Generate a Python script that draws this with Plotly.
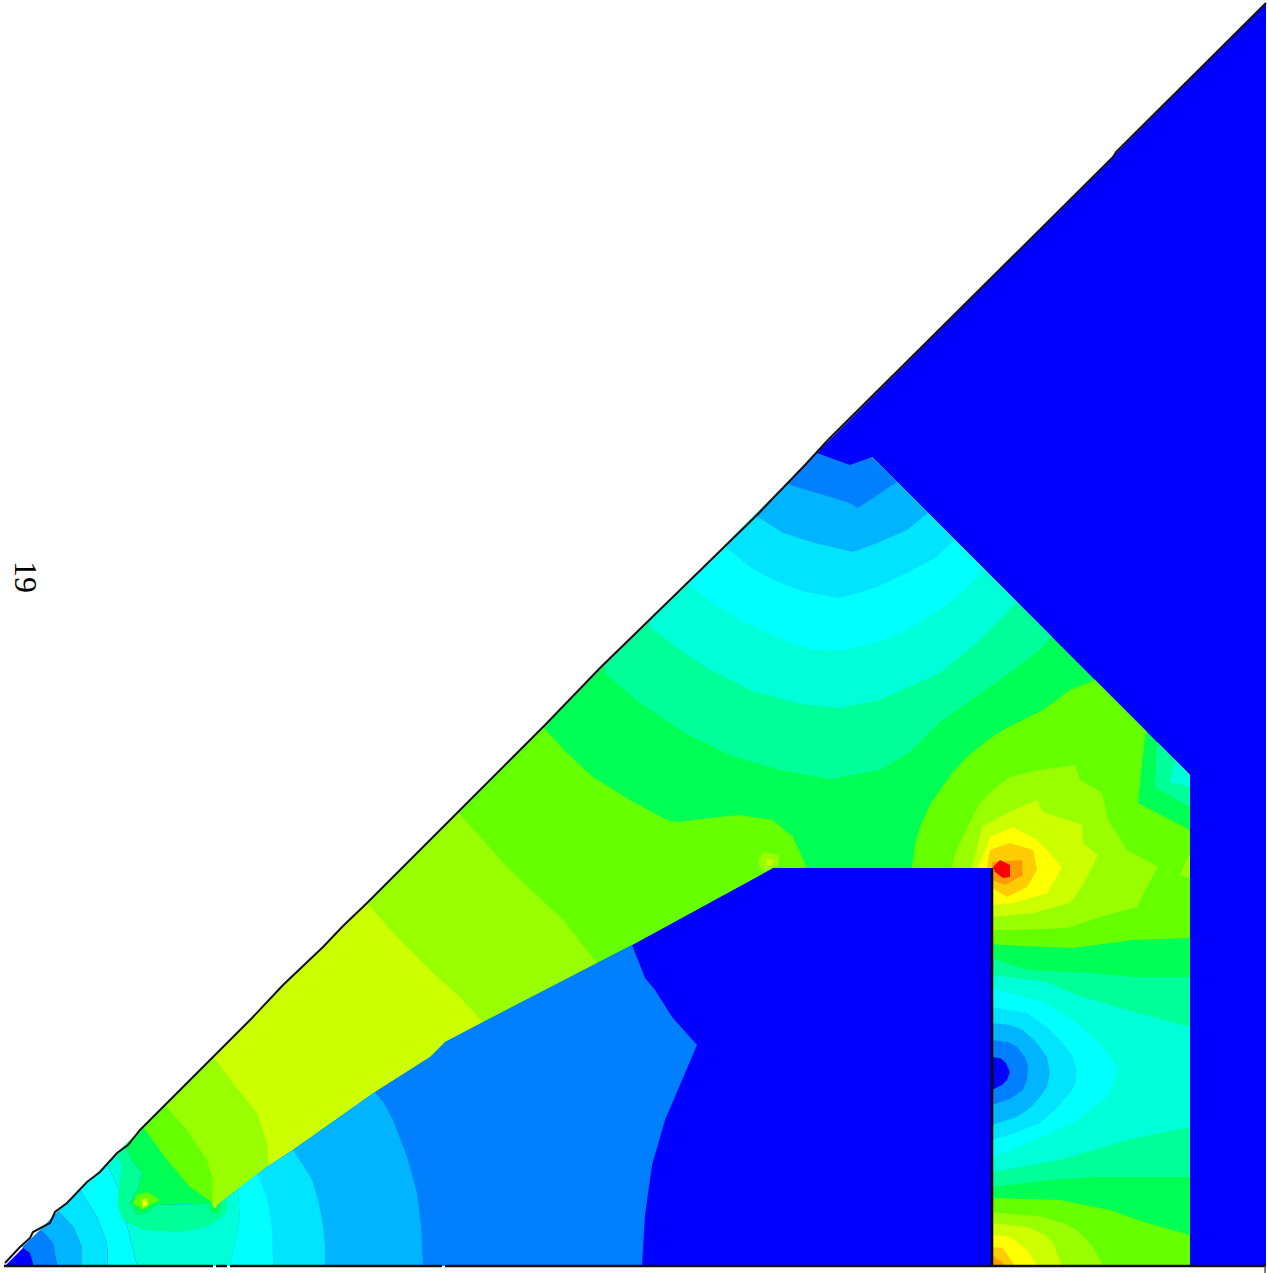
import plotly.graph_objects as go

# Colour levels of the contour map (low to high)
C0, C1, C2, C3, C4 = "#0000ff", "#0080ff", "#00b4ff", "#00e4ff", "#00ffff"
C5, C6, C7, C8, C9 = "#00ffd8", "#00ff99", "#00ff55", "#66ff00", "#99ff00"
C10, C11, C12, C13, C14 = "#ccff00", "#ffff00", "#ffcc00", "#ff9900", "#ff0000"

# Contour regions (x, y in image units)
domain = [(5, 1266), (1266, 3), (1266, 1266)]
lower_edge = [(632, 945), (520, 1003), (483, 1022), (445, 1042), (430, 1057), (375, 1092),
              (293, 1150), (267, 1167), (215, 1207)]
fan_close = [(238, 1190), (240, 1220), (230, 1266)]
cap_top = [(872, 457), (817, 453)]

base_c7 = [(125, 1145), (817, 453), (872, 457), (1190, 775), (1190, 1266), (992, 1266), (992, 868),
           (773, 868)] + lower_edge + [(213, 1204), (157, 1205), (147, 1213), (137, 1215), (130, 1203),
                                       (138, 1187), (142, 1172), (133, 1163)]

# Upper wedge bands
wedge_c8 = [(543, 727), (567, 753), (593, 777), (630, 800), (667, 820), (678, 822), (710, 818), (740, 815),
            (773, 820), (793, 837), (807, 868), (773, 868), (632, 945)] + lower_edge[1:] + \
           [(213, 1203), (190, 1187), (167, 1160), (143, 1127)]
wedge_c9 = [(458, 812), (507, 867), (563, 920), (597, 963), (520, 1003), (483, 1022), (445, 1042),
            (430, 1057), (375, 1092), (293, 1150), (267, 1167), (215, 1207), (212, 1203),
            (213, 1180), (207, 1160), (187, 1130), (165, 1105)]
wedge_c10 = [(213, 1057), (367, 903), (397, 937), (433, 973), (460, 997), (483, 1022), (445, 1042),
             (430, 1057), (375, 1092), (293, 1150), (268, 1167), (267, 1143), (257, 1113), (233, 1083)]

# Cap at the top of the channel
cap_c6 = [(605, 665), (605, 673), (640, 703), (683, 732), (730, 755), (780, 770), (830, 779), (880, 770),
          (910, 752), (940, 722), (1000, 680), (1040, 650), (1052, 637)] + cap_top
cap_c5 = [(650, 620), (650, 627), (680, 650), (707, 668), (750, 690), (800, 704), (840, 708), (880, 700),
          (940, 673), (980, 640), (1017, 602)] + cap_top
cap_c4 = [(688, 582), (690, 585), (715, 605), (740, 620), (790, 643), (815, 650), (840, 651), (875, 643),
          (907, 630), (950, 603), (985, 570)] + cap_top
cap_c3 = [(725, 545), (727, 548), (750, 567), (773, 580), (805, 592), (840, 598), (875, 588), (907, 573),
          (935, 558), (955, 540)] + cap_top
cap_c2 = [(756, 514), (758, 517), (783, 533), (815, 543), (853, 552), (880, 542), (907, 530), (928, 513)] + cap_top
cap_c1 = [(787, 483), (790, 485), (847, 502), (858, 508), (897, 482)] + cap_top
cap_c0 = [(817, 453), (850, 465), (872, 457), (1000, 300), (830, 440)]

# Hot zone beside the obstacle corner
hot_c8 = [(992, 943), (992, 868), (912, 868), (915, 845), (920, 827), (930, 805), (940, 790), (953, 772),
          (967, 757), (985, 742), (1003, 730), (1043, 710), (1070, 690), (1095, 680), (1147, 732), (1145, 737),
          (1142, 763), (1138, 803), (1190, 830), (1190, 938), (1133, 940), (1073, 948), (1000, 945)]
side_c6 = [(1157, 742), (1155, 787), (1190, 807), (1190, 775)]
side_c5 = [(1175, 760), (1172, 772), (1170, 782), (1190, 787), (1190, 775)]
side_c9 = [(1190, 853), (1190, 878), (1180, 875)]
hot_c9 = [(952, 868), (956, 852), (963, 837), (971, 820), (980, 803), (995, 788), (1010, 777), (1040, 770),
          (1075, 765), (1080, 780), (1102, 793), (1108, 820), (1127, 850), (1158, 867), (1147, 887), (1137, 907),
          (1100, 917), (1067, 928), (1013, 930), (992, 930), (992, 868)]
hot_c10 = [(972, 868), (982, 827), (1007, 813), (1037, 800), (1043, 812), (1082, 825), (1083, 843), (1098, 855),
           (1083, 885), (1070, 903), (1033, 913), (992, 917), (992, 868)]
hot_c11 = [(977, 868), (983, 857), (990, 837), (1013, 827), (1037, 840), (1050, 853), (1062, 868), (1047, 893),
           (1013, 903), (992, 905), (992, 868)]
hot_c12 = [(987, 868), (990, 850), (1010, 843), (1033, 850), (1037, 870), (1027, 887), (1007, 897), (992, 888),
           (992, 868)]
hot_c13 = [(992, 862), (1022, 860), (1023, 875), (1005, 885), (992, 880)]
hot_c14 = [(993, 867), (1000, 860), (1010, 865), (1010, 877), (1003, 878), (995, 872)]

# Right column, middle bands (cold spot on the wall)
col_c6 = [(992, 958), (1027, 970), (1093, 973), (1133, 977), (1190, 977), (1190, 1177), (1093, 1177),
          (1050, 1180), (992, 1187)]
col_c5 = [(992, 975), (1047, 982), (1077, 995), (1120, 1008), (1190, 1027), (1190, 1127), (1127, 1140),
          (1060, 1160), (992, 1172)]
col_c4 = [(992, 988), (1043, 1002), (1073, 1020), (1103, 1047), (1113, 1060), (1118, 1070), (1113, 1085),
          (1107, 1097), (1073, 1123), (1027, 1143), (992, 1157)]
col_c3 = [(992, 1007), (1027, 1013), (1048, 1028), (1060, 1040), (1072, 1055), (1077, 1070), (1075, 1085),
          (1070, 1093), (1057, 1108), (1040, 1123), (1015, 1133), (992, 1140)]
col_c2 = [(992, 1023), (1010, 1025), (1023, 1030), (1037, 1043), (1047, 1057), (1050, 1073), (1047, 1087),
          (1040, 1097), (1030, 1108), (1017, 1117), (992, 1125)]
col_c1 = [(992, 1040), (1008, 1042), (1017, 1047), (1025, 1057), (1028, 1067), (1027, 1080), (1023, 1090),
          (1010, 1099), (992, 1105)]
col_c0 = [(992, 1057), (1000, 1058), (1006, 1063), (1010, 1072), (1007, 1080), (1002, 1085), (992, 1090)]

# Right column, foot (second hot spot)
foot_c8 = [(992, 1198), (1060, 1200), (1110, 1210), (1147, 1223), (1190, 1235), (1190, 1266), (992, 1266)]
foot_c9 = [(992, 1212), (1043, 1217), (1065, 1224), (1077, 1230), (1093, 1247), (1103, 1266), (992, 1266)]
foot_c10 = [(992, 1223), (1027, 1227), (1045, 1235), (1053, 1243), (1062, 1266), (992, 1266)]
foot_c11 = [(992, 1235), (1010, 1237), (1027, 1250), (1037, 1266), (992, 1266)]
foot_c12 = [(992, 1247), (1003, 1248), (1015, 1266), (992, 1266)]
foot_c13 = [(992, 1255), (1003, 1263), (1005, 1266), (992, 1266)]

# Lower fan under the sloping obstacle
fan_c1 = [(632, 945), (645, 978), (655, 990), (672, 1017), (697, 1045), (680, 1085), (665, 1120), (652, 1165),
          (645, 1215), (642, 1266)] + fan_close[::-1] + lower_edge[::-1]
fan_c2 = [(375, 1092), (385, 1105), (393, 1120), (401, 1140), (407, 1157), (413, 1178), (417, 1193), (421, 1225),
          (423, 1266)] + fan_close[::-1] + [(215, 1207), (267, 1167), (293, 1150)]
fan_c3 = [(293, 1150), (303, 1165), (312, 1180), (318, 1200), (322, 1220), (325, 1245), (325, 1266)] + \
         fan_close[::-1] + [(215, 1207), (267, 1167)]
fan_c4 = [(257, 1174), (263, 1187), (268, 1203), (272, 1230), (273, 1266)] + fan_close[::-1] + [(215, 1207)]

# Bottom-left corner
corner_c1 = [(22, 1247), (40, 1230), (43, 1232), (53, 1243), (57, 1266), (33, 1266), (33, 1263), (30, 1253)]
corner_c2 = [(40, 1230), (58, 1211), (73, 1227), (82, 1247), (82, 1266), (57, 1266), (53, 1243), (43, 1232)]
corner_c3 = [(58, 1211), (80, 1190), (97, 1217), (107, 1243), (108, 1266), (82, 1266), (82, 1247), (73, 1227)]
corner_c4 = [(80, 1190), (107, 1163), (120, 1193), (128, 1230), (137, 1266), (108, 1266), (107, 1243), (97, 1217)]
corner_c5 = [(107, 1163), (125, 1145), (133, 1163), (142, 1172), (138, 1187), (130, 1203), (137, 1215), (147, 1213),
             (157, 1205), (213, 1204), (215, 1207), (238, 1190), (240, 1220), (230, 1266), (137, 1266), (128, 1230),
             (120, 1193)]
corner_c6 = [(116, 1154), (122, 1167), (118, 1190), (118, 1207), (123, 1220), (143, 1230), (180, 1232), (207, 1227),
             (223, 1217), (228, 1207), (226, 1199), (215, 1207), (213, 1204), (157, 1205), (147, 1213), (137, 1215),
             (130, 1203), (138, 1187), (142, 1172), (133, 1163), (125, 1145)]
spot_a_c7 = [(207, 1204), (212, 1213), (218, 1213), (222, 1204), (215, 1207)]
spot_a_c8 = [(137, 1195), (147, 1192), (160, 1200), (150, 1205), (143, 1210), (133, 1203)]
spot_a_c10 = [(142, 1200), (147, 1198), (148, 1205), (143, 1208)]
spot_a_c11 = [(143, 1201), (147, 1202), (146, 1206), (143, 1206)]
spot_b_c9 = [(212, 1203), (217, 1202), (217, 1207), (214, 1209)]
spot_b_c10 = [(213, 1203), (216, 1203), (216, 1206), (214, 1207)]
spot_c_c9 = [(758, 862), (763, 852), (778, 855), (779, 865), (772, 868), (762, 872)]
spot_c_c10 = [(766, 859), (773, 860), (772, 866), (767, 865)]

# Outline of the geometry
diagonal_line = [(5, 1263), (20, 1247), (30, 1238), (33, 1232), (50, 1223), (55, 1212), (67, 1203), (80, 1190),
                 (87, 1182), (100, 1172), (117, 1153), (128, 1145), (140, 1130), (213, 1057), (252, 1018),
                 (283, 985), (323, 947), (343, 926), (367, 903), (450, 820), (545, 725), (600, 668), (647, 622),
                 (757, 515), (805, 465), (828, 440), (1113, 157), (1116, 152), (1266, 3)]
wall_line = [(992, 868), (992, 1266)]
base_line = [(4, 1266), (213, 1266), None, (216, 1266), (227, 1266), None, (230, 1266), (442, 1266), None,
             (445, 1266), (1266, 1266)]
end_tick = [(1265, 1266), (1265, 1273)]
side_label = "19"

layers = [
    (domain, C0), (base_c7, C7), (wedge_c8, C8), (wedge_c9, C9), (wedge_c10, C10),
    (cap_c6, C6), (cap_c5, C5), (cap_c4, C4), (cap_c3, C3), (cap_c2, C2), (cap_c1, C1), (cap_c0, C0),
    (hot_c8, C8), (side_c6, C6), (side_c5, C5), (side_c9, C9), (hot_c9, C9), (hot_c10, C10), (hot_c11, C11),
    (hot_c12, C12), (hot_c13, C13), (hot_c14, C14),
    (col_c6, C6), (col_c5, C5), (col_c4, C4), (col_c3, C3), (col_c2, C2), (col_c1, C1), (col_c0, C0),
    (foot_c8, C8), (foot_c9, C9), (foot_c10, C10), (foot_c11, C11), (foot_c12, C12), (foot_c13, C13),
    (fan_c1, C1), (fan_c2, C2), (fan_c3, C3), (fan_c4, C4),
    (corner_c1, C1), (corner_c2, C2), (corner_c3, C3), (corner_c4, C4), (corner_c5, C5), (corner_c6, C6),
    (spot_a_c7, C7), (spot_a_c8, C8), (spot_a_c10, C10), (spot_a_c11, C11), (spot_b_c9, C9), (spot_b_c10, C10),
    (spot_c_c9, C9), (spot_c_c10, C10),
]


def xy(points):
    return ([p[0] if p else None for p in points], [p[1] if p else None for p in points])


fig = go.Figure()
for points, colour in layers:
    xs, ys = xy(points)
    fig.add_trace(go.Scatter(x=xs, y=ys, mode="lines", fill="toself", fillcolor=colour,
                             line=dict(width=0, color=colour), hoverinfo="skip", showlegend=False))
for points, width, colour in [(diagonal_line, 2, "#111111"), (wall_line, 2.5, "#000000"),
                              (base_line, 2.5, "#111111"), (end_tick, 1.5, "#555555")]:
    xs, ys = xy(points)
    fig.add_trace(go.Scatter(x=xs, y=ys, mode="lines", line=dict(width=width, color=colour),
                             hoverinfo="skip", showlegend=False))

fig.add_annotation(x=26, y=577, xref="x", yref="y", text=side_label, textangle=90, showarrow=False,
                   font=dict(family="Liberation Serif", size=32, color="#000000"))
fig.update_xaxes(range=[0, 1268], visible=False, fixedrange=True)
fig.update_yaxes(range=[1273, 0], visible=False, fixedrange=True)
fig.update_layout(width=1268, height=1273, margin=dict(l=0, r=0, t=0, b=0), paper_bgcolor="white",
                  plot_bgcolor="white")
fig.write_html("out.html", config={"displayModeBar": False},
               post_script="document.body.style.margin='0';document.body.style.overflow='hidden';")
